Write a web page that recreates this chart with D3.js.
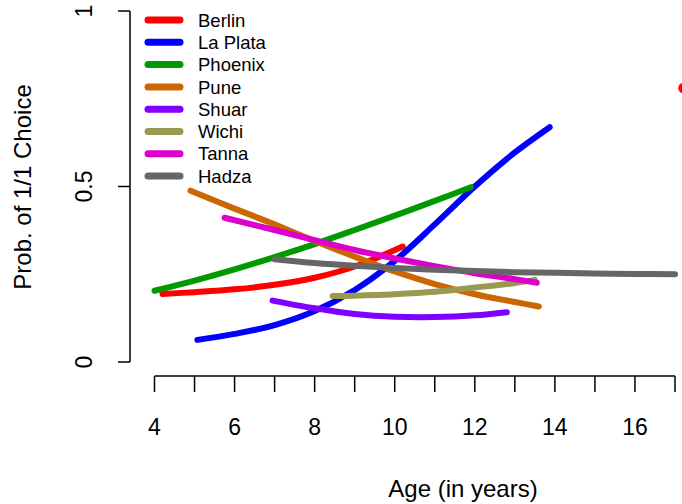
<!DOCTYPE html>
<html>
<head>
<meta charset="utf-8">
<title>Prob. of 1/1 Choice by age</title>
<script src="https://d3js.org/d3.v7.min.js"></script>
<style>
  body { margin: 0; background: #fff; }
  text { font-family: "Liberation Sans", Arial, sans-serif; fill: #000; }
</style>
</head>
<body>
<div id="chart"></div>
<script>
// sites and their colours (legend order)
var sites = ["Berlin", "La Plata", "Phoenix", "Pune", "Shuar", "Wichi", "Tanna", "Hadza"];
var colors = ["#ff0000", "#0000ff", "#009900", "#cc6600", "#8000ff", "#999950", "#dd00cc", "#666666"];

// ages / probabilities, one pair of arrays per site
var berlinAge = [4.2, 5, 6, 7, 8, 9, 10.2];
var berlinP = [0.194, 0.199, 0.207, 0.220, 0.240, 0.272, 0.329];
var laPlataAge = [5.07, 6, 7, 8, 9, 10, 11, 12, 13, 13.87];
var laPlataP = [0.063, 0.080, 0.105, 0.145, 0.205, 0.288, 0.392, 0.500, 0.597, 0.669];
var phoenixAge = [4, 5, 6, 7, 8, 9, 10, 11, 11.9];
var phoenixP = [0.203, 0.232, 0.264, 0.299, 0.336, 0.376, 0.417, 0.459, 0.498];
var puneAge = [4.9, 6, 7, 8, 9, 10, 11, 12, 13, 13.6];
var puneP = [0.488, 0.437, 0.392, 0.345, 0.300, 0.258, 0.222, 0.193, 0.171, 0.158];
var shuarAge = [6.95, 8, 9, 10, 11, 12, 12.8];
var shuarP = [0.175, 0.153, 0.137, 0.129, 0.128, 0.133, 0.142];
var wichiAge = [8.45, 9, 10, 11, 12, 13, 13.5];
var wichiP = [0.188, 0.189, 0.193, 0.200, 0.212, 0.225, 0.234];
var tannaAge = [5.75, 7, 8, 9, 10, 11, 12, 13, 13.55];
var tannaP = [0.411, 0.376, 0.347, 0.319, 0.295, 0.273, 0.253, 0.236, 0.226];
var hadzaAge = [7, 8, 9, 10, 11, 12, 13, 14, 15, 16, 17];
var hadzaP = [0.293, 0.282, 0.274, 0.268, 0.263, 0.259, 0.256, 0.254, 0.252, 0.251, 0.250];

// stray point at the right edge (mostly cut off)
var dotAge = [17.22];
var dotP = [0.78];

var xTicks = [4, 5, 6, 7, 8, 9, 10, 11, 12, 13, 14, 15, 16, 17];
var xLabels = [4, 6, 8, 10, 12, 14, 16];
var yTicks = [0, 0.5, 1];
var yLabels = ["0", "0.5", "1"];

var ages = [berlinAge, laPlataAge, phoenixAge, puneAge, shuarAge, wichiAge, tannaAge, hadzaAge];
var probs = [berlinP, laPlataP, phoenixP, puneP, shuarP, wichiP, tannaP, hadzaP];

var W = 682, H = 504;
var svg = d3.select("#chart").append("svg")
    .attr("width", W).attr("height", H);

var x = d3.scaleLinear().domain([4, 17]).range([154.5, 675]);
var y = d3.scaleLinear().domain([0, 1]).range([362, 11]);

// curves
var line = d3.line()
    .x(function (d) { return x(d[0]); })
    .y(function (d) { return y(d[1]); })
    .curve(d3.curveCatmullRom.alpha(0.5));

sites.forEach(function (s, i) {
    var pts = d3.zip(ages[i], probs[i]);
    svg.append("path")
        .attr("d", line(pts))
        .attr("fill", "none")
        .attr("stroke", colors[i])
        .attr("stroke-width", 6)
        .attr("stroke-linecap", "round");
});

svg.selectAll(".dot")
    .data(d3.zip(dotAge, dotP))
    .enter().append("circle")
    .attr("cx", function (d) { return x(d[0]); })
    .attr("cy", function (d) { return y(d[1]); })
    .attr("r", 5.5)
    .attr("fill", "#ff0000");

// x axis
var xAxis = svg.append("g").attr("transform", "translate(0,376)");
xAxis.append("line")
    .attr("x1", x(xTicks[0])).attr("x2", x(xTicks[xTicks.length - 1]))
    .attr("stroke", "#000").attr("stroke-width", 1.5);
xAxis.selectAll(".xt").data(xTicks).enter().append("line")
    .attr("x1", function (d) { return x(d); }).attr("x2", function (d) { return x(d); })
    .attr("y1", 0).attr("y2", 16)
    .attr("stroke", "#000").attr("stroke-width", 1.5);
svg.selectAll(".xl").data(xLabels).enter().append("text")
    .attr("x", function (d) { return x(d); })
    .attr("y", 435)
    .attr("text-anchor", "middle")
    .style("font-size", "23px")
    .text(function (d) { return d; });

// y axis
var yAxis = svg.append("g");
yAxis.append("line")
    .attr("x1", 130).attr("x2", 130)
    .attr("y1", y(0)).attr("y2", y(1))
    .attr("stroke", "#000").attr("stroke-width", 1.5);
yAxis.selectAll(".yt").data(yTicks).enter().append("line")
    .attr("x1", 118).attr("x2", 130)
    .attr("y1", function (d) { return y(d); }).attr("y2", function (d) { return y(d); })
    .attr("stroke", "#000").attr("stroke-width", 1.5);
svg.selectAll(".yl").data(yTicks).enter().append("text")
    .attr("transform", function (d) { return "translate(92," + y(d) + ") rotate(-90)"; })
    .attr("text-anchor", "middle")
    .style("font-size", "23px")
    .text(function (d, i) { return yLabels[i]; });

// axis titles
svg.append("text")
    .attr("x", 463).attr("y", 497)
    .attr("text-anchor", "middle")
    .style("font-size", "24px")
    .text("Age (in years)");
svg.append("text")
    .attr("transform", "translate(31,187) rotate(-90)")
    .attr("text-anchor", "middle")
    .style("font-size", "24px")
    .text("Prob. of 1/1 Choice");

// legend
var leg = svg.selectAll(".leg").data(sites).enter().append("g")
    .attr("transform", function (d, i) { return "translate(0," + (20 + i * 22.3) + ")"; });
leg.append("line")
    .attr("x1", 148).attr("x2", 180)
    .attr("stroke", function (d, i) { return colors[i]; })
    .attr("stroke-width", 7)
    .attr("stroke-linecap", "round");
leg.append("text")
    .attr("x", 198).attr("dy", "0.36em")
    .style("font-size", "18.5px")
    .text(function (d) { return d; });
</script>
</body>
</html>
